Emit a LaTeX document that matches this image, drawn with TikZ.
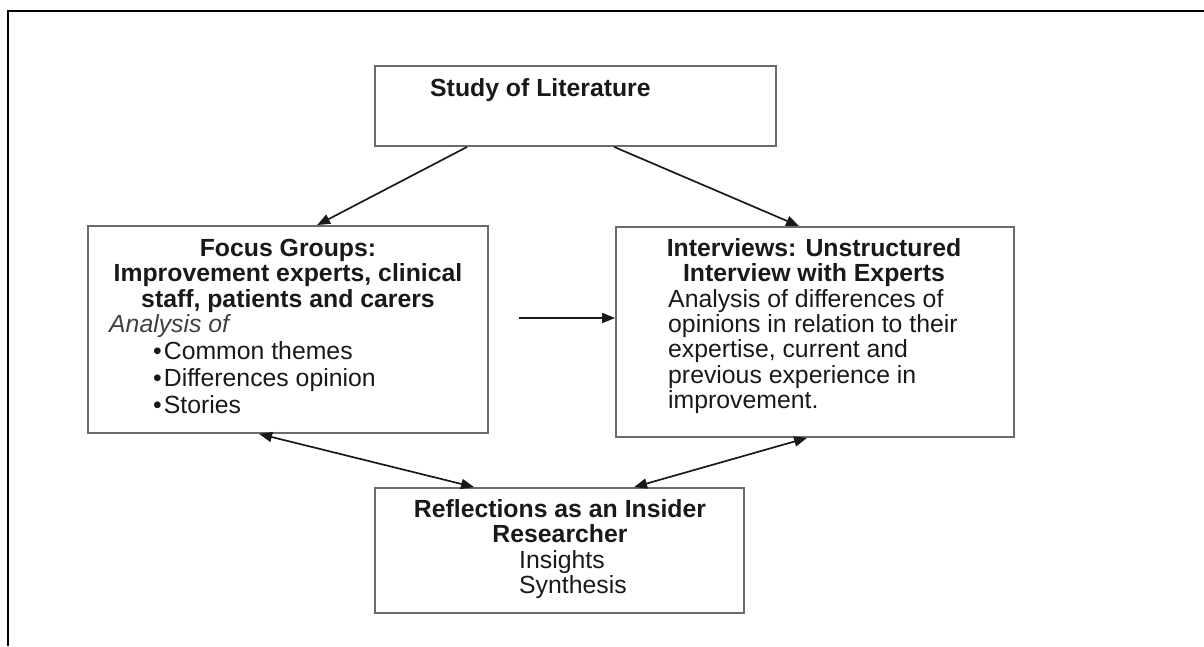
\documentclass[tikz,border=0pt]{standalone}
\usepackage{fontspec}
\setmainfont{Liberation Sans}
\usetikzlibrary{calc,arrows.meta}

\newcommand{\diagfont}{\fontsize{24.8}{25.3}\selectfont}

\begin{document}
\begin{tikzpicture}
            [x=1pt, y=-1pt, font=\diagfont,
            % every node/.style={draw=red},
            box/.style={draw=black!58, line width=1.8pt, inner sep=0pt},
            txt/.style={inner sep=0pt, text=black!90},
            head/.style={txt, font={\diagfont\bfseries}},
            link/.style={draw=black!90, line width=1.7pt, -{Triangle[length=13pt,width=10pt]}},
            twoway/.style={link, {Triangle[length=13pt,width=10pt]}-{Triangle[length=13pt,width=10pt]}}]
            \useasboundingbox (0,0) rectangle (1204,646);
            \draw [line width=2.6pt] (8,646) -- (8,11) -- (1204,11);
            % boxes
            \node [box, minimum width=401, minimum height=80] (study) at (575.5,106) {};
            \node [box, minimum width=400, minimum height=207] (focus) at (288,329.5) {};
            \node [box, minimum width=398, minimum height=210] (interviews) at (815,332) {};
            \node [box, minimum width=369, minimum height=125] (refl) at (559.5,550.5) {};
            % texts
            \node [head, anchor=base west] (studytxt) at (430,96) {Study of Literature};
            \node [head, anchor=north, align=center] (focushead) at (288,239)
                {Focus Groups:\\Improvement experts, clinical\\staff, patients and carers};
            \node [txt, anchor=north west, align=left] (focusbody) at (109,314)
                {\textcolor{black!75}{\itshape Analysis of}\\[1.7pt]
                \hspace*{44pt}\textbullet\hspace{2pt}Common themes\\[1.7pt]
                \hspace*{44pt}\textbullet\hspace{2pt}Differences opinion\\[1.7pt]
                \hspace*{44pt}\textbullet\hspace{2pt}Stories};
            \node [head, anchor=north, align=center] (interviewshead) at (814,238)
                {Interviews: Unstructured\\Interview with Experts};
            \node [txt, anchor=north west, align=left] (interviewsbody) at (668,289)
                {Analysis of differences of\\opinions in relation to their\\expertise, current and\\previous experience in\\improvement.};
            \node [head, anchor=north, align=center] (reflhead) at (560,499)
                {Reflections as an Insider\\Researcher};
            \node [txt, anchor=north west, align=left] (reflbody) at (519,550)
                {Insights\\Synthesis};
            % connectors
            \coordinate (handoff) at (519,318);
            \draw [link] ($(study.south west)+(93,0)$) -- ($(focus.north west)+(230,0)$);
            \draw [link] ($(study.south west)+(240,0)$) -- ($(interviews.north west)+(184,0)$);
            \draw [link] (handoff) -- ($(interviews.west)+(0,-14)$);
            \draw [twoway] ($(focus.south west)+(172,0)$) -- ($(refl.north west)+(100,0)$);
            \draw [twoway] ($(interviews.south west)+(192,0)$) -- ($(refl.north west)+(260,0)$);
            \end{tikzpicture}
\end{document}
